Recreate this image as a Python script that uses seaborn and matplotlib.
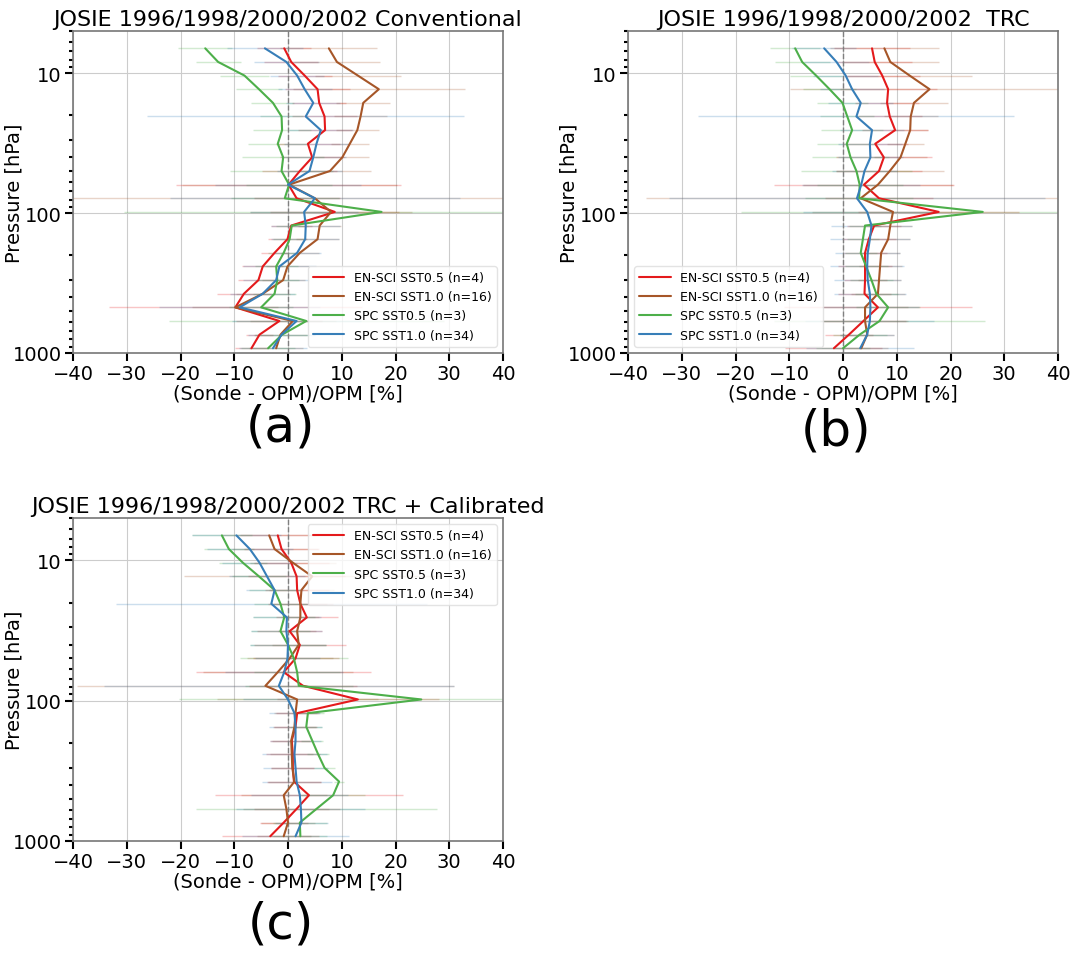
import numpy as np
import pandas as pd
import matplotlib
matplotlib.use("Agg")
import matplotlib.pyplot as plt
import matplotlib.ticker as mticker
import seaborn as sns

# Pressure levels [hPa] (bin centres)
pressure = [6.65, 8.32, 10.41, 13.03, 16.31, 20.41, 25.54, 31.97, 40.0, 50.07,
            62.66, 78.4, 98.1, 122.8, 153.7, 192.4, 240.8, 301.3, 377.1, 471.9,
            590.6, 739.2, 925.0]

series_names = ["EN-SCI SST0.5 (n=4)", "EN-SCI SST1.0 (n=16)",
                "SPC SST0.5 (n=3)", "SPC SST1.0 (n=34)"]
colors = ["#e41a1c", "#a65628", "#4daf4a", "#377eb8"]

titles = ["JOSIE 1996/1998/2000/2002 Conventional",
          "JOSIE 1996/1998/2000/2002  TRC",
          "JOSIE 1996/1998/2000/2002 TRC + Calibrated"]
panel_labels = ["(a)", "(b)", "(c)"]

# ---- Panel (a) Conventional ----
a_ensci05 = [-0.7, 0.6, 3.1, 5.5, 5.8, 6.8, 6.9, 3.7, 4.5, 2.2, 0.1, 1.6, 8.7,
             0.6, -0.1, -2.5, -4.7, -5.5, -8.2, -9.8, -1.6, -5.3, -6.8]
a_ensci10 = [7.6, 9.1, 13.0, 16.9, 14.0, 13.5, 12.9, 11.5, 10.1, 7.8, 0.2, 5.0, 8.0,
             5.9, 5.5, 2.2, -0.1, -0.9, -4.7, -9.8, 0.9, -1.4, -2.2]
a_spc05 = [-15.4, -13.0, -8.1, -5.4, -2.8, -1.2, -1.1, -1.9, -0.9, -1.2, 0.2, -0.6, 17.4,
           0.7, 0.3, -0.8, -2.2, -2.0, -2.5, -5.0, 3.4, -1.1, -3.7]
a_spc10 = [-4.3, -0.3, 1.7, 3.1, 4.7, 3.3, 6.1, 5.3, 4.7, 4.0, 0.0, 5.0, 3.0,
           3.3, 3.2, 1.7, -1.6, -2.2, -4.7, -9.0, 1.6, -1.2, -2.8]
a_ensci05_err = [5, 5, 5, 6, 5, 6, 5, 6, 6, 7, 21, 8, 12, 3.8, 3.7, 2.5, 3.8, 3.8, 5, 23.5, 8, 2.5, 3]
a_ensci10_err = [9, 8, 8, 16, 5, 5, 4, 3.5, 5, 7.7, 20, 50, 15, 4, 4, 3.5, 4, 4, 5, 8, 8, 5, 5]
a_spc05_err = [5, 4.2, 4.6, 4.2, 4, 4, 5.4, 5.5, 7.6, 9.6, 8, 10, 48, 3, 3, 3, 4, 4, 4, 6, 25.6, 5, 5]
a_spc10_err = [7, 6, 5, 5, 5, 29.5, 6, 6, 6, 6, 13.6, 27, 10, 6.4, 6.3, 4.5, 6.8, 6.1, 6, 15, 12, 6.3, 6.4]

# ---- Panel (b) TRC ----
b_ensci05 = [5.4, 5.9, 7.3, 8.4, 8.2, 8.7, 9.7, 6.0, 7.6, 6.7, 3.9, 6.7, 17.8,
             5.8, 4.8, 4.1, 4.1, 4.1, 4.0, 6.5, 3.8, 1.1, -1.7]
b_ensci10 = [7.7, 8.8, 12.4, 16.1, 13.2, 12.6, 12.5, 11.6, 10.7, 8.7, 6.5, 3.3, 9.3,
             8.8, 8.4, 7.1, 6.9, 6.7, 6.5, 4.1, 4.1, 4.5, 3.4]
b_spc05 = [-8.9, -7.6, -5.0, -2.5, -0.1, 0.8, 1.7, 0.7, 1.4, 2.5, 3.1, 3.0, 26.0,
           4.1, 3.7, 3.3, 4.3, 5.3, 6.2, 8.4, 6.8, 3.1, 0.0]
b_spc10 = [-3.5, -1.2, 0.5, 1.7, 3.3, 2.5, 5.4, 5.0, 5.1, 4.0, 3.4, 2.6, 4.5,
           5.3, 5.0, 4.6, 4.5, 4.6, 5.0, 5.1, 5.0, 4.5, 3.2]
b_ensci05_err = [7, 7, 7, 9, 6, 6, 6.2, 6, 8.9, 8, 16.7, 10, 15, 5, 5, 4, 5, 4, 5, 17.5, 8, 4.5, 9]
b_ensci10_err = [10.2, 9, 11.6, 26, 6.4, 5, 3.4, 3.5, 5, 10, 14, 40, 15, 4, 4, 3.5, 4, 4, 5, 8, 8, 5, 5]
b_spc05_err = [4.6, 5.1, 4.9, 5, 4.7, 5, 5.8, 5.5, 7.1, 10.3, 8, 10, 45, 3, 3, 3, 4, 4, 4, 6, 19.6, 5, 5]
b_spc10_err = [6, 6, 6, 6, 6, 29.4, 6, 6, 6, 6, 11, 35, 12, 7.5, 7.5, 6, 6.9, 6.2, 6.7, 9, 12, 5, 10]

# ---- Panel (c) TRC + Calibrated ----
c_ensci05 = [-1.9, -1.2, 0.6, 1.6, 1.7, 2.3, 3.5, 0.3, 2.2, 1.4, -0.8, 2.8, 13.0,
             1.7, 1.4, 0.7, 0.9, 0.9, 1.1, 3.9, 1.6, -0.8, -3.3]
c_ensci10 = [-3.5, -2.5, 0.9, 4.5, 2.5, 2.3, 2.3, 1.7, 2.0, 0.3, -1.9, -4.2, 1.7,
             1.4, 1.2, 0.6, 0.7, 0.8, 1.2, -0.8, -0.3, 0.0, -0.8]
c_spc05 = [-12.3, -11.0, -8.4, -5.4, -2.5, -1.4, -0.7, -1.4, 0.0, 1.1, 1.7, 2.0, 24.8,
           3.7, 3.4, 4.5, 5.6, 6.8, 9.5, 8.4, 5.3, 2.2, 2.3]
c_spc10 = [-9.6, -7.1, -5.3, -3.9, -2.5, -3.1, -0.2, -0.3, 0.0, -0.1, -0.7, -1.7, 0.0,
           1.2, 1.4, 1.4, 1.2, 1.4, 1.6, 2.2, 2.4, 2.5, 1.4]
c_ensci05_err = [7, 7, 7, 9, 6, 6, 5.8, 6, 8.6, 8, 16.3, 10, 15, 4, 4, 4, 5, 4, 5, 17.5, 8, 4.5, 9]
c_ensci10_err = [9, 8, 8, 23.8, 6, 5, 3.4, 3.5, 5, 8, 14, 35, 15, 4, 4, 3.5, 4, 4, 5, 8, 8, 5, 5]
c_spc05_err = [5.6, 4.7, 4.4, 5, 4.7, 5, 5.8, 5.5, 7.1, 10, 8, 10, 45, 3, 3, 2, 2, 2, 1, 6, 22.4, 5, 5]
c_spc10_err = [8.3, 8, 7, 7, 5.3, 28.9, 6.4, 6.6, 7, 6, 11, 32.6, 8.3, 4.8, 5, 4.8, 6, 6, 6.5, 9, 12, 5, 10]

panels = [
    ([a_ensci05, a_ensci10, a_spc05, a_spc10],
     [a_ensci05_err, a_ensci10_err, a_spc05_err, a_spc10_err], "lower right"),
    ([b_ensci05, b_ensci10, b_spc05, b_spc10],
     [b_ensci05_err, b_ensci10_err, b_spc05_err, b_spc10_err], "lower left"),
    ([c_ensci05, c_ensci10, c_spc05, c_spc10],
     [c_ensci05_err, c_ensci10_err, c_spc05_err, c_spc10_err], "upper right"),
]

sns.set_theme(style="whitegrid")
plt.rcParams["font.family"] = ["DejaVu Sans"]
plt.rcParams["text.color"] = "black"
plt.rcParams["axes.labelcolor"] = "black"
plt.rcParams["xtick.color"] = "black"
plt.rcParams["ytick.color"] = "black"

fig = plt.figure(figsize=(10.72, 9.54), dpi=100)
W, H = 1072, 954
# axes boxes in pixels: (left, top, right, bottom)
boxes = [(73, 32, 503, 354), (628, 32, 1058, 354), (73, 519, 503, 842)]
label_pos = [(281, 428), (836, 432), (281, 925)]

for i, ((vals, errs, legloc), box) in enumerate(zip(panels, boxes)):
    l, t, r, b = box
    ax = fig.add_axes([l / W, 1 - b / H, (r - l) / W, (b - t) / H])
    rows = []
    for name, v in zip(series_names, vals):
        for p, x in zip(pressure, v):
            rows.append({"series": name, "p": p, "diff": x})
    df = pd.DataFrame(rows)
    # error bars (light)
    for name, v, e, c in zip(series_names, vals, errs, colors):
        ax.errorbar(v, pressure, xerr=e, fmt="none", ecolor=c, alpha=0.25,
                    elinewidth=1.0, zorder=1)
    sns.lineplot(data=df, x="diff", y="p", hue="series", hue_order=series_names,
                 palette=colors, orient="y", estimator=None, sort=True,
                 linewidth=1.5, ax=ax, zorder=3)
    ax.axvline(0, color="gray", linestyle="--", linewidth=1.0, zorder=2)
    ax.set_yscale("log")
    ax.set_ylim(1000, 5)
    ax.set_xlim(-40, 40)
    ax.set_xticks(np.arange(-40, 41, 10))
    ax.yaxis.set_major_locator(mticker.FixedLocator([10, 100, 1000]))
    ax.yaxis.set_major_formatter(mticker.FixedFormatter(["10", "100", "1000"]))
    ax.yaxis.set_minor_locator(mticker.LogLocator(base=10, subs=np.arange(2, 10)))
    ax.yaxis.set_minor_formatter(mticker.NullFormatter())
    ax.tick_params(axis="both", which="major", labelsize=14, length=6, width=1.5,
                   color="black", labelcolor="black", direction="out",
                   left=True, bottom=True, pad=2)
    ax.tick_params(axis="y", which="minor", length=3, width=1.5, color="black",
                   left=True)
    ax.grid(True, which="major", color="#cccccc", linewidth=0.8)
    ax.grid(False, which="minor")
    for s in ax.spines.values():
        s.set_color("#777777")
        s.set_linewidth(1.2)
    ax.set_xlabel("(Sonde - OPM)/OPM [%]", fontsize=14, labelpad=0)
    ax.set_ylabel("Pressure [hPa]", fontsize=14)
    ax.yaxis.set_label_coords(-0.115, 0.5)
    ax.set_title(titles[i], fontsize=16, pad=4)
    leg = ax.legend(loc=legloc, fontsize=9, frameon=True, handlelength=2.5)
    leg.get_frame().set_edgecolor("#dddddd")
    lx, ly = label_pos[i]
    fig.text(lx / W, 1 - ly / H, panel_labels[i], fontsize=36,
             ha="center", va="center")

fig.savefig("out.png", dpi=100)
